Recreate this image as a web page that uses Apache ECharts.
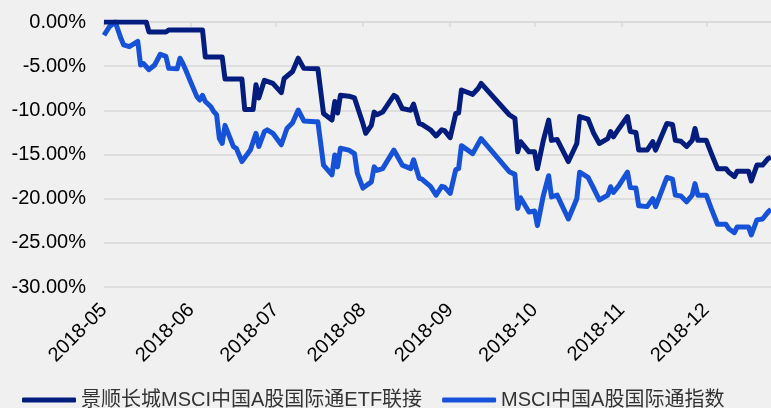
<!DOCTYPE html>
<html>
<head>
<meta charset="utf-8">
<script src="https://cdn.jsdelivr.net/npm/echarts@6/dist/echarts.min.js"></script>
<style>
html,body{margin:0;padding:0;background:#f0f0f0;}
#chart{width:771px;height:408px;}
</style>
</head>
<body>
<div id="chart"></div>
<script>
// Calendar-day categories from 2018-05-01 to 2018-12-24 (MM-DD)
const year = '2018';
const startDate = '2018-05-01';
const endDate = '2018-12-24';

const seriesNames = ['景顺长城MSCI中国A股国际通ETF联接', 'MSCI中国A股国际通指数'];

// Fund (navy) cumulative return, % : [MM-DD, value]
const fundReturn = [
['05-01',0],['05-16',0],['05-17',-1.13],['05-23',-1.13],['05-24',-0.9],['06-05',-0.9],
['06-06',-3.96],['06-12',-3.96],['06-13',-6.45],['06-19',-6.45],['06-20',-9.9],['06-23',-9.9],
['06-24',-7.1],['06-25',-8.6],['06-27',-6.6],['06-30',-6.95],['07-03',-8.0],['07-04',-6.4],
['07-07',-5.6],['07-09',-4.1],['07-11',-5.25],['07-16',-5.3],['07-18',-10.35],['07-21',-11.1],
['07-22',-9.0],['07-23',-10.3],['07-24',-8.3],['07-27',-8.4],['07-29',-8.6],['08-01',-11.5],
['08-02',-12.6],['08-04',-11.7],['08-05',-10.2],['08-06',-10.5],['08-08',-10.2],['08-12',-8.3],
['08-13',-8.5],['08-15',-9.8],['08-18',-10.0],['08-19',-9.3],['08-21',-11.5],['08-22',-11.6],
['08-25',-12.2],['08-27',-12.9],['08-29',-12.2],['08-30',-12.3],['09-01',-13.1],['09-03',-10.35],
['09-04',-10.3],['09-05',-7.7],['09-09',-8.2],['09-11',-7.5],['09-12',-6.95],['09-22',-10.5],
['09-24',-10.9],['09-25',-14.7],['09-26',-13.55],['09-29',-14.7],['10-01',-14.7],['10-02',-16.6],
['10-04',-13.55],['10-06',-11.1],['10-07',-13.4],['10-09',-13.3],['10-13',-15.8],['10-16',-13.75],
['10-17',-10.7],['10-20',-11.0],['10-22',-12.6],['10-24',-13.75],['10-27',-13.2],['10-28',-12.4],
['10-29',-13.0],['10-31',-12.05],['11-03',-10.7],['11-04',-12.4],['11-06',-12.5],['11-07',-14.5],
['11-10',-14.5],['11-12',-13.55],['11-13',-14.5],['11-17',-11.5],['11-19',-11.6],['11-20',-13.4],
['11-22',-13.5],['11-24',-14.1],['11-26',-13.4],['11-27',-12.05],['11-28',-13.4],['12-01',-13.4],
['12-03',-15.05],['12-05',-16.6],['12-08',-16.6],['12-09',-17.0],['12-11',-17.5],['12-12',-16.9],
['12-16',-16.9],['12-17',-18.0],['12-19',-16.2],['12-21',-16.2],['12-23',-15.45],['12-24',-15.3]
];

// Index (blue) cumulative return, % : [MM-DD, value]
const indexReturn = [
['05-01',-1.5],['05-03',-0.5],['05-05',0],['05-07',-1.85],['05-08',-2.6],['05-10',-2.8],
['05-13',-2.2],['05-14',-4.87],['05-15',-4.7],['05-17',-5.4],['05-19',-4.87],['05-21',-3.65],
['05-23',-3.9],['05-24',-5.25],['05-27',-5.3],['05-28',-4.1],['05-29',-4.7],['05-30',-5.4],
['06-01',-6.95],['06-03',-8.45],['06-04',-8.83],['06-05',-8.3],['06-06',-9.0],['06-08',-9.6],
['06-09',-10.15],['06-10',-10.5],['06-11',-13.2],['06-12',-13.75],['06-13',-11.7],['06-16',-14.1],
['06-17',-14.3],['06-19',-15.8],['06-22',-14.5],['06-24',-12.6],['06-25',-14.1],['06-27',-12.4],
['06-28',-12.2],['06-30',-12.6],['07-03',-13.9],['07-05',-12.05],['07-07',-11.4],['07-09',-9.96],
['07-11',-11.2],['07-15',-11.3],['07-16',-11.3],['07-18',-16.2],['07-21',-17.3],['07-22',-15.05],
['07-23',-16.4],['07-24',-14.3],['07-27',-14.5],['07-29',-14.9],['07-30',-17.1],['08-01',-18.8],
['08-04',-18.1],['08-05',-16.4],['08-06',-16.8],['08-08',-16.6],['08-12',-14.5],['08-13',-15.05],
['08-15',-16.2],['08-18',-16.6],['08-19',-15.6],['08-21',-17.7],['08-22',-17.8],['08-25',-18.6],
['08-27',-19.6],['08-29',-18.6],['08-30',-18.7],['09-01',-19.4],['09-03',-16.7],['09-04',-16.6],
['09-05',-14.0],['09-09',-14.9],['09-11',-13.75],['09-12',-13.2],['09-22',-16.95],['09-24',-17.25],
['09-25',-21.1],['09-26',-19.9],['09-29',-21.5],['10-01',-21.4],['10-02',-23.05],['10-04',-19.8],
['10-06',-17.4],['10-07',-19.8],['10-09',-19.6],['10-13',-22.3],['10-16',-20.0],['10-17',-17.0],
['10-20',-17.6],['10-22',-18.85],['10-24',-20.15],['10-27',-19.6],['10-28',-18.65],['10-29',-19.3],
['10-31',-18.5],['11-03',-17.0],['11-04',-18.75],['11-06',-18.8],['11-07',-20.8],['11-10',-20.9],
['11-12',-20.0],['11-13',-20.9],['11-17',-17.6],['11-19',-17.8],['11-20',-19.6],['11-22',-19.7],
['11-24',-20.35],['11-26',-19.6],['11-27',-18.3],['11-28',-19.6],['12-01',-19.6],['12-03',-21.3],
['12-05',-22.9],['12-08',-22.9],['12-09',-23.4],['12-11',-23.85],['12-12',-23.2],['12-16',-23.2],
['12-17',-24.1],['12-19',-22.4],['12-21',-22.3],['12-23',-21.5],['12-24',-21.2]
];

const yMin = -30, yMax = 0, yStep = 5;

// build calendar categories
const categories = [];
(function(){
  let d = new Date(startDate + 'T00:00:00Z');
  const end = new Date(endDate + 'T00:00:00Z');
  while (d <= end) {
    const mm = String(d.getUTCMonth() + 1).padStart(2, '0');
    const dd = String(d.getUTCDate()).padStart(2, '0');
    categories.push(mm + '-' + dd);
    d = new Date(d.getTime() + 86400000);
  }
})();

const isMonthStart = (i, v) => String(v).endsWith('-01');
const font = "'Liberation Sans', Arial, 'Noto Sans CJK SC', sans-serif";

const chart = echarts.init(document.getElementById('chart'), null, {renderer: 'canvas'});
chart.setOption({
  backgroundColor: '#f0f0f0',
  animation: false,
  textStyle: {fontFamily: font},
  grid: {left: 104, right: 0, top: 22, bottom: 121, containLabel: false},
  legend: {
    left: 17, top: 385,
    icon: 'roundRect',
    itemWidth: 54, itemHeight: 5,
    itemGap: 20,
    textStyle: {fontSize: 20, color: '#333', fontFamily: font},
    data: seriesNames
  },
  xAxis: [{
    type: 'category',
    data: categories,
    boundaryGap: false,
    position: 'bottom',
    axisLine: {show: false},
    axisTick: {show: false},
    splitLine: {show: false},
    axisLabel: {
      interval: isMonthStart,
      rotate: 45,
      margin: 20,
      fontSize: 20,
      color: '#000',
      fontFamily: font,
      formatter: v => year + '-' + v.slice(0, 2)
    }
  }, {
    type: 'category',
    data: categories,
    boundaryGap: false,
    position: 'top',
    axisLine: {show: true, lineStyle: {color: '#d9d9d9', width: 1.5}},
    axisTick: {show: true, inside: true, length: 5, interval: isMonthStart, lineStyle: {color: '#d9d9d9', width: 1.5}},
    axisLabel: {show: false},
    splitLine: {show: false}
  }],
  yAxis: {
    type: 'value',
    min: yMin, max: yMax, interval: yStep,
    axisLine: {show: false},
    axisTick: {show: false},
    splitLine: {lineStyle: {color: '#d9d9d9', width: 1.5}},
    axisLabel: {
      fontSize: 20, color: '#000', margin: 18, fontFamily: font,
      formatter: v => v.toFixed(2) + '%'
    }
  },
  series: [{
    name: seriesNames[0],
    type: 'line',
    xAxisIndex: 0,
    data: fundReturn,
    symbol: 'none',
    itemStyle: {color: '#021d7e'},
    lineStyle: {color: '#021d7e', width: 5, join: 'round'},
    z: 3
  }, {
    name: seriesNames[1],
    type: 'line',
    xAxisIndex: 0,
    data: indexReturn,
    symbol: 'none',
    itemStyle: {color: '#1652d8'},
    lineStyle: {color: '#1652d8', width: 5, join: 'round'},
    z: 2
  }]
});
</script>
</body>
</html>
